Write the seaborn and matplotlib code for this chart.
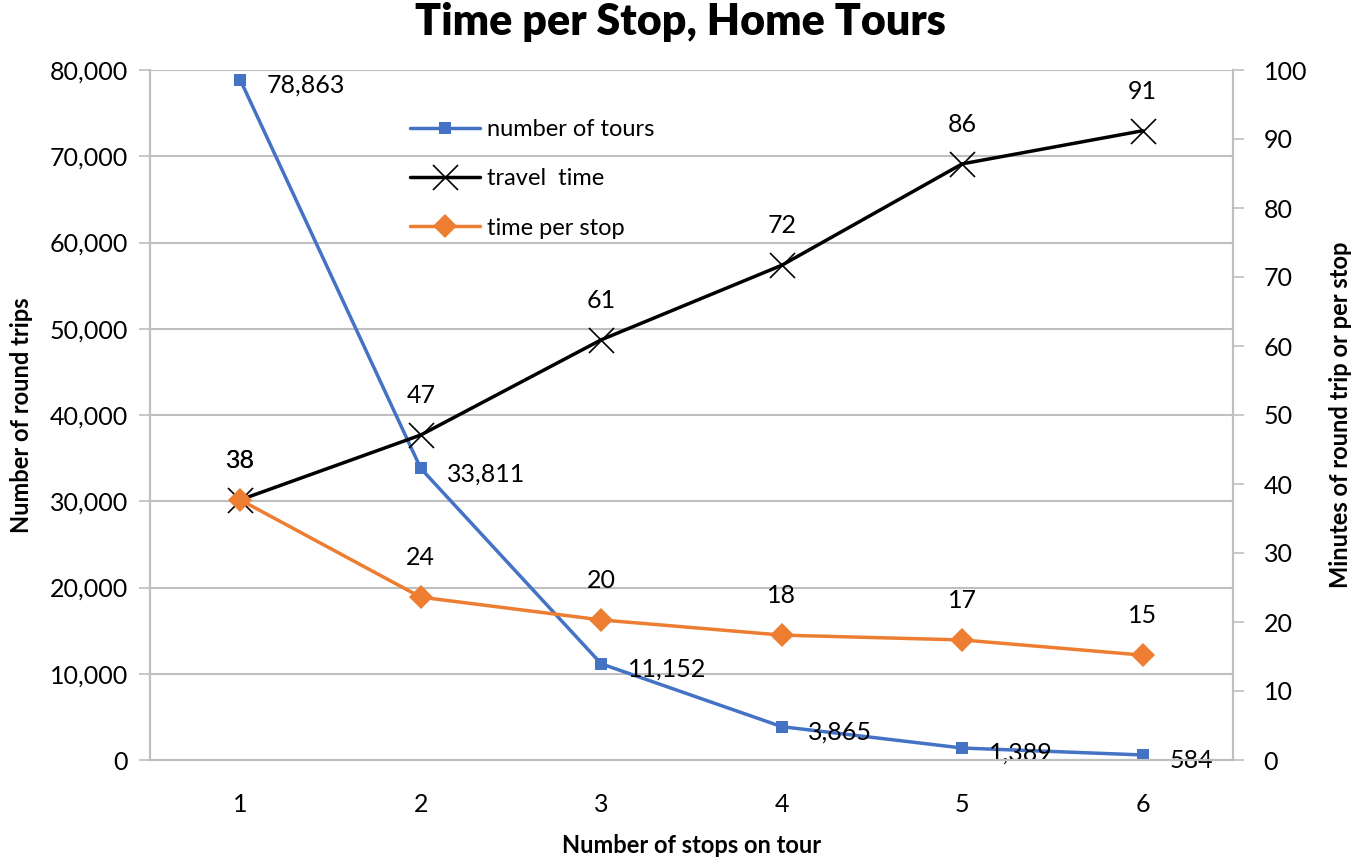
import matplotlib
matplotlib.use("Agg")
import matplotlib.pyplot as plt
import seaborn as sns
import numpy as np
from matplotlib.ticker import FuncFormatter, MultipleLocator

stops = [1, 2, 3, 4, 5, 6]
tours = [78863, 33811, 11152, 3865, 1389, 584]
travel_time = [37.7, 47.1, 60.9, 71.7, 86.4, 91.2]
time_per_stop = [37.7, 23.6, 20.3, 18.1, 17.4, 15.2]

sns.set_theme(style="white")
plt.rcParams['font.family'] = ['Lato', 'DejaVu Sans']
plt.rcParams['text.color'] = 'black'
plt.rcParams['axes.labelcolor'] = 'black'
plt.rcParams['xtick.color'] = 'black'
plt.rcParams['ytick.color'] = 'black'

fig = plt.figure(figsize=(13.61, 8.58), dpi=100)
ax = fig.add_axes([150/1361, 1-760/858, (1233-150)/1361, (760-70)/858])
ax2 = ax.twinx()

grid_c = '#bfbfbf'
blue = '#4472c4'
orange = '#ed7d31'

sns.lineplot(x=stops, y=tours, ax=ax, color=blue, marker='s', markersize=8,
             markeredgewidth=0, linewidth=2.5, label='number of tours', legend=False)
sns.lineplot(x=stops, y=travel_time, ax=ax2, color='black', marker='x', markersize=18,
             markeredgewidth=1.2, markeredgecolor='black', linewidth=2.5, label='travel  time', legend=False)
sns.lineplot(x=stops, y=time_per_stop, ax=ax2, color=orange, marker='D', markersize=12,
             markeredgewidth=0, linewidth=2.5, label='time per stop', legend=False)

ax.set_xlim(0.5, 6.5)
ax.set_ylim(0, 80000)
ax2.set_ylim(0, 100)
ax.yaxis.set_major_locator(MultipleLocator(10000))
ax2.yaxis.set_major_locator(MultipleLocator(10))
ax.yaxis.set_major_formatter(FuncFormatter(lambda v, p: f"{int(v):,}"))
ax.set_xticks(stops)
ax.set_xticklabels([str(s) for s in stops])
ax.set_xticks(np.arange(0.5, 7.0, 1.0), minor=True)
ax.tick_params(axis='x', which='major', length=0, pad=24, labelsize=18)
ax.tick_params(axis='x', which='minor', length=7, width=1.2, color=grid_c, direction='out')
ax.tick_params(axis='y', length=8, width=1.2, color=grid_c, labelsize=18, pad=8, left=True,
               labelcolor='black')
ax2.tick_params(axis='y', length=8, width=1.2, color=grid_c, labelsize=18, pad=14, right=True,
                labelcolor='black')
ax.grid(axis='y', color=grid_c, linewidth=1.5)
ax.set_axisbelow(True)

for a in (ax, ax2):
    a.spines['top'].set_visible(False)
    for s in ('left', 'right', 'bottom'):
        a.spines[s].set_color(grid_c)
        a.spines[s].set_linewidth(1.5)

ax.set_xlabel('Number of stops on tour', fontsize=17, fontweight='bold', labelpad=13)
ax.set_ylabel('Number of round trips', fontsize=17, fontweight='bold', labelpad=12)
ax2.set_ylabel('Minutes of round trip or per stop', fontsize=17, fontweight='bold', labelpad=16)

fig.suptitle('Time per Stop, Home Tours', fontsize=31, fontweight='heavy', y=0.998)

# data labels
for x, v in zip(stops, tours):
    ax.annotate(f"{v:,}", (x, v), xytext=(19, -4), textcoords='offset points',
                ha='left', va='center', fontsize=18)
for x, v in zip(stops, travel_time):
    ax2.annotate(f"{v:.0f}", (x, v), xytext=(0, 20), textcoords='offset points',
                 ha='center', va='bottom', fontsize=18)
for x, v in zip(stops, time_per_stop):
    ax2.annotate(f"{v:.0f}", (x, v), xytext=(0, 20), textcoords='offset points',
                 ha='center', va='bottom', fontsize=18)

h1, l1 = ax.get_legend_handles_labels()
h2, l2 = ax2.get_legend_handles_labels()
leg = ax2.legend(h1 + h2, l1 + l2, loc='upper left', bbox_to_anchor=(0.22, 0.96),
                 frameon=False, fontsize=17, handlelength=3.0, labelspacing=1.2,
                 handletextpad=0.3)

fig.savefig('out.png', dpi=100)
